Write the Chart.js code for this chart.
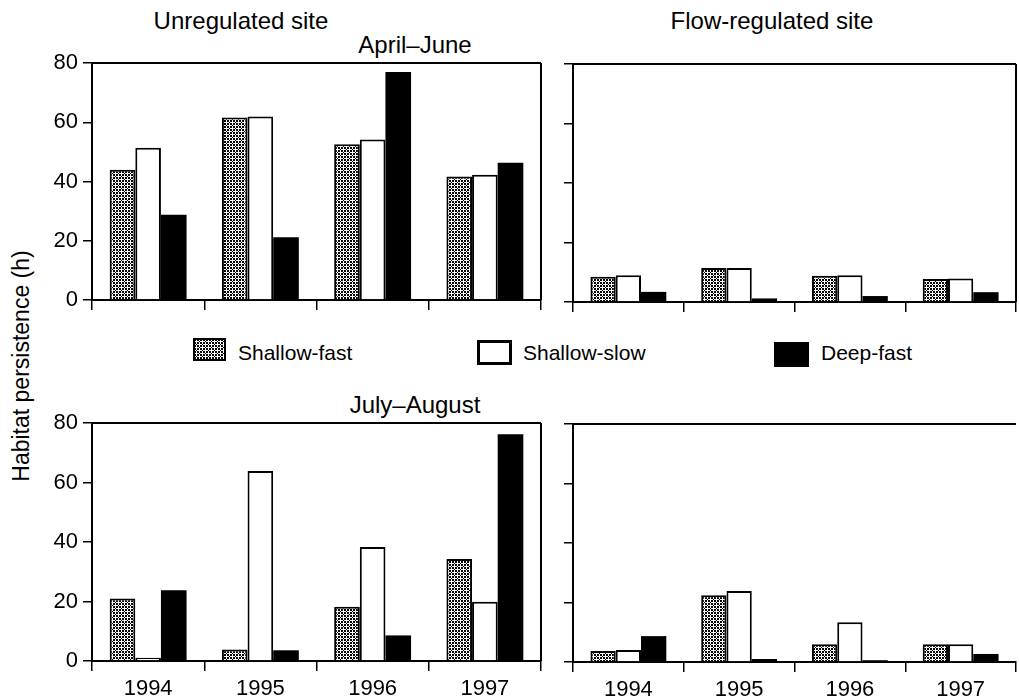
<!DOCTYPE html>
<html><head><meta charset="utf-8">
<script src="https://cdn.jsdelivr.net/npm/chart.js@4"></script>
<style>
body{margin:0;background:#fff;width:1019px;height:700px;position:relative;overflow:hidden;font-family:"Liberation Sans",Arial,sans-serif;color:#000}
canvas{position:absolute}
.t{position:absolute;font-size:24px;white-space:nowrap;transform:translate(-50%,-50%);line-height:1}
.lt{position:absolute;font-size:21px;white-space:nowrap;transform:translateY(-50%);line-height:1}
.box{position:absolute;box-sizing:border-box}
</style></head><body>
<div class="t" style="left:241px;top:21px">Unregulated site</div>
<div class="t" style="left:772px;top:21px">Flow-regulated site</div>
<div class="t" style="left:415px;top:45px">April–June</div>
<div class="t" style="left:415px;top:405px">July–August</div>
<div class="t" style="left:21px;top:366px;font-size:23px;transform:translate(-50%,-50%) rotate(-90deg)">Habitat persistence (h)</div>

<div id="lb1" class="box" style="left:193px;top:338px;width:33px;height:23px;border:2px solid #000"></div>
<div class="lt" style="left:238px;top:352px">Shallow-fast</div>
<div class="box" style="left:477px;top:340px;width:35px;height:25px;border:3px solid #000;background:#fff"></div>
<div class="lt" style="left:523px;top:352px">Shallow-slow</div>
<div class="box" style="left:774px;top:342px;width:35px;height:25px;background:#000"></div>
<div class="lt" style="left:821px;top:352px">Deep-fast</div>

<canvas id="tl" width="556" height="280" style="left:0;top:40px"></canvas>
<canvas id="tr" width="466" height="280" style="left:553px;top:40px"></canvas>
<canvas id="bl" width="556" height="300" style="left:0;top:400px"></canvas>
<canvas id="br" width="466" height="300" style="left:553px;top:400px"></canvas>
<script>
const categories = ['1994','1995','1996','1997'];
const seriesNames = ['Shallow-fast','Shallow-slow','Deep-fast'];
const yTicks = [0,20,40,60,80];
// April–June, unregulated site
const unregAprSF = [44, 61.6, 52.6, 41.7];
const unregAprSS = [51.4, 61.9, 54.2, 42.3];
const unregAprDF = [28.8, 21.2, 77, 46.3];
// April–June, flow-regulated site
const regAprSF = [8.5, 11.4, 8.8, 7.7];
const regAprSS = [9, 11.4, 9, 7.9];
const regAprDF = [3.4, 1.2, 2, 3.3];
// July–August, unregulated site
const unregJulSF = [21, 3.9, 18.2, 34.3];
const unregJulSS = [1.1, 63.9, 38.3, 19.9];
const unregJulDF = [23.8, 3.6, 8.6, 76.2];
// July–August, flow-regulated site
const regJulSF = [3.7, 22.4, 6, 6];
const regJulSS = [4, 23.9, 13.4, 6];
const regJulDF = [8.7, 1, 0.6, 2.7];

// crosshatch pattern
const pc = document.createElement('canvas');
pc.width = 6; pc.height = 6;
const px = pc.getContext('2d');
px.fillStyle = '#000'; px.fillRect(0,0,6,6);
px.fillStyle = '#fff';
function plus(cx,cy){
  for (let d=-2; d<=2; d++){
    px.fillRect(((cx+d)%6+6)%6, cy, 1, 1);
    px.fillRect(cx, ((cy+d)%6+6)%6, 1, 1);
  }
}
plus(1,1); plus(4,4);
const hatch = px.createPattern(pc,'repeat');
document.getElementById('lb1').style.background = 'url(' + pc.toDataURL() + ') repeat';

const framePlugin = {
  id:'frame',
  afterDraw(chart, args, opts){
    const a = chart.chartArea, c = chart.ctx;
    c.save(); c.strokeStyle='#000'; c.lineWidth=2;
    c.beginPath(); c.moveTo(a.left, a.top); c.lineTo(a.right, a.top);
    if (opts.right) { c.moveTo(a.right, a.top); c.lineTo(a.right, a.bottom); }
    c.stroke(); c.restore();
  }
};

function makeChart(id, sf, ss, df, o){
  new Chart(document.getElementById(id), {
    type:'bar',
    data:{ labels: categories, datasets:[
      {label:seriesNames[0], data:sf, backgroundColor:hatch, borderColor:'#000', borderWidth:2},
      {label:seriesNames[1], data:ss, backgroundColor:'#fff', borderColor:'#000', borderWidth:2},
      {label:seriesNames[2], data:df, backgroundColor:'#000', borderColor:'#000', borderWidth:0}
    ]},
    options:{
      responsive:false, animation:false,
      layout:{padding:{top:o.padTop, right:o.padRight, left:0, bottom:0}},
      datasets:{bar:{barPercentage:1, categoryPercentage:0.685, borderSkipped:'bottom'}},
      plugins:{legend:{display:false}, tooltip:{enabled:false}, frame:{right:o.right}},
      scales:{
        x:{
          offset:true,
          grid:{display:true, drawOnChartArea:false, drawTicks:true, tickLength:10, color:'#000', lineWidth:1.5, offset:true},
          border:{display:true, color:'#000', width:2},
          ticks:{display:o.xLabels, color:'#000', padding:5, font:{family:'"Liberation Sans", Arial, sans-serif', size:22}},
          afterFit(s){ s.height = o.xH; }
        },
        y:{
          min:0, max:80,
          afterBuildTicks(s){ s.ticks = yTicks.map(v=>({value:v})); },
          grid:{display:true, drawOnChartArea:false, drawTicks:true, tickLength:9, color:'#000', lineWidth:1.5},
          border:{display:true, color:'#000', width:2},
          ticks:{display:o.yLabels, color:'#000', padding:5, font:{family:'"Liberation Sans", Arial, sans-serif', size:22}},
          afterFit(s){ s.width = o.yW; }
        }
      }
    },
    plugins:[framePlugin]
  });
}

makeChart('tl', unregAprSF, unregAprSS, unregAprDF, {padTop:23, padRight:15, xH:20, yW:92, xLabels:false, yLabels:true, right:true});
makeChart('tr', regAprSF, regAprSS, regAprDF, {padTop:24, padRight:3, xH:18, yW:20, xLabels:false, yLabels:false, right:true});
makeChart('bl', unregJulSF, unregJulSS, unregJulDF, {padTop:23, padRight:15, xH:39, yW:92, xLabels:true, yLabels:true, right:true});
makeChart('br', regJulSF, regJulSS, regJulDF, {padTop:24, padRight:3, xH:38, yW:20, xLabels:true, yLabels:false, right:false});
</script>
</body></html>
